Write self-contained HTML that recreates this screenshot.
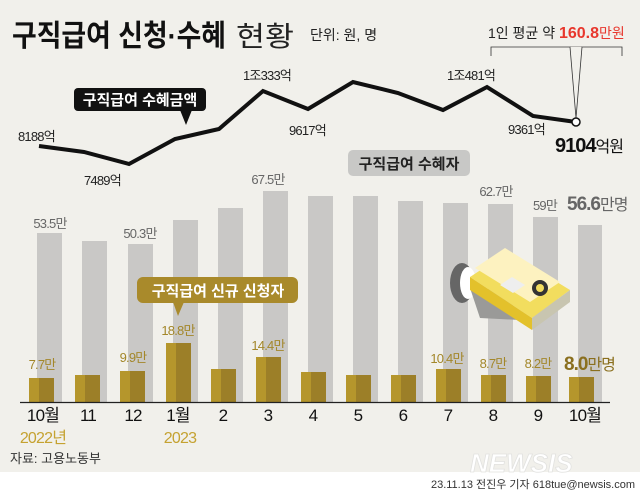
<!DOCTYPE html>
<html><head><meta charset="utf-8"><style>
body{margin:0;width:640px;height:492px;overflow:hidden;background:#fff}
svg{display:block}
text{font-family:"Liberation Sans","Noto Sans CJK KR",sans-serif}
</style></head><body>
<svg width="640" height="492" viewBox="0 0 640 492" xmlns="http://www.w3.org/2000/svg">
<rect x="0" y="0" width="640" height="472" fill="#f1f0eb"/>
<!-- title -->
<text x="12" y="46" font-size="30" font-weight="bold" fill="#111" textLength="214" lengthAdjust="spacingAndGlyphs">구직급여 신청·수혜</text>
<text x="236" y="46" font-size="28" fill="#222" textLength="58" lengthAdjust="spacingAndGlyphs">현황</text>
<text x="310" y="40" font-size="14" fill="#222">단위: 원, 명</text>
<text x="488" y="38" font-size="14" fill="#222">1인 평균 약 <tspan fill="#e8372d" font-weight="bold" font-size="16">160.8</tspan><tspan fill="#e8372d">만원</tspan></text>
<polyline points="491,56 491,47 622,47 622,56" fill="none" stroke="#333" stroke-width="0.8"/>
<polyline points="570,47 576,118 582,47" fill="#f1f0eb" stroke="#333" stroke-width="0.8"/>
<line x1="571" y1="47.5" x2="581" y2="47.5" stroke="#f1f0eb" stroke-width="1.2"/>
<!-- gray bars -->
<g fill="#c9c8c6">
<rect x="37" y="233" width="25" height="169"/>
<rect x="82" y="241" width="25" height="161"/>
<rect x="128" y="244" width="25" height="158"/>
<rect x="173" y="220" width="25" height="182"/>
<rect x="218" y="208" width="25" height="194"/>
<rect x="263" y="191" width="25" height="211"/>
<rect x="308" y="196" width="25" height="206"/>
<rect x="353" y="196" width="25" height="206"/>
<rect x="398" y="201" width="25" height="201"/>
<rect x="443" y="203" width="25" height="199"/>
<rect x="488" y="204" width="25" height="198"/>
<rect x="533" y="217" width="25" height="185"/>
<rect x="578" y="225" width="24" height="177"/>
</g>
<!-- gold bars -->
<g fill="#9c7f28">
<rect x="29" y="378" width="25" height="24"/>
<rect x="75" y="375" width="25" height="27"/>
<rect x="120" y="371" width="25" height="31"/>
<rect x="166" y="343" width="25" height="59"/>
<rect x="211" y="369" width="25" height="33"/>
<rect x="256" y="357" width="25" height="45"/>
<rect x="301" y="372" width="25" height="30"/>
<rect x="346" y="375" width="25" height="27"/>
<rect x="391" y="375" width="25" height="27"/>
<rect x="436" y="369" width="25" height="33"/>
<rect x="481" y="375" width="25" height="27"/>
<rect x="526" y="376" width="25" height="26"/>
<rect x="569" y="377" width="25" height="25"/>
</g>
<g fill="#b5962c">
<rect x="29" y="378" width="10" height="24"/><rect x="75" y="375" width="10" height="27"/><rect x="120" y="371" width="10" height="31"/><rect x="166" y="343" width="10" height="59"/><rect x="211" y="369" width="10" height="33"/><rect x="256" y="357" width="10" height="45"/><rect x="301" y="372" width="10" height="30"/><rect x="346" y="375" width="10" height="27"/><rect x="391" y="375" width="10" height="27"/><rect x="436" y="369" width="10" height="33"/><rect x="481" y="375" width="10" height="27"/><rect x="526" y="376" width="10" height="26"/><rect x="569" y="377" width="10" height="25"/>
</g>
<line x1="20" y1="402.5" x2="610" y2="402.5" stroke="#222" stroke-width="1.2"/>
<!-- gray labels -->
<g font-size="13" fill="#666" text-anchor="middle" letter-spacing="-0.8">
<text x="50" y="228">53.5만</text>
<text x="140" y="238">50.3만</text>
<text x="268" y="184">67.5만</text>
<text x="496" y="196">62.7만</text>
<text x="545" y="210">59만</text>
</g>
<text x="567" y="210" font-size="19" font-weight="bold" fill="#666" letter-spacing="-1">56.6<tspan font-weight="normal" font-size="16">만명</tspan></text>
<!-- gold labels -->
<g font-size="13" fill="#a3872a" text-anchor="middle" letter-spacing="-0.8">
<text x="42" y="369">7.7만</text>
<text x="133" y="362">9.9만</text>
<text x="178" y="335">18.8만</text>
<text x="268" y="350">14.4만</text>
<text x="447" y="363">10.4만</text>
<text x="493" y="368">8.7만</text>
<text x="538" y="368">8.2만</text>
</g>
<text x="564" y="370" font-size="19" font-weight="bold" fill="#8a6f1e" letter-spacing="-1">8.0<tspan font-weight="normal" font-size="16">만명</tspan></text>
<!-- months -->
<g font-size="17" fill="#111" text-anchor="middle" letter-spacing="-0.8">
<text x="43" y="421">10월</text><text x="88" y="421">11</text><text x="133" y="421">12</text><text x="178" y="421">1월</text><text x="223" y="421">2</text><text x="268" y="421">3</text><text x="313" y="421">4</text><text x="358" y="421">5</text><text x="403" y="421">6</text><text x="448" y="421">7</text><text x="493" y="421">8</text><text x="538" y="421">9</text><text x="585" y="421">10월</text>
</g>
<g font-size="16" fill="#c5a231" text-anchor="middle" letter-spacing="-0.8"><text x="43" y="443">2022년</text><text x="180" y="443">2023</text></g>
<text x="10" y="463" font-size="13" fill="#333">자료: 고용노동부</text>
<text x="470" y="472" font-size="26" font-weight="bold" font-style="italic" fill="#fff" stroke="#e2e2e0" stroke-width="0.8">NEWSIS</text>
<text x="635" y="488" font-size="11" fill="#333" text-anchor="end">23.11.13 전진우 기자 618tue@newsis.com</text>
<!-- gray pill -->
<rect x="348" y="150" width="122" height="26" rx="5" fill="#c8c8c6"/>
<text x="409" y="169" font-size="15" font-weight="bold" fill="#222" text-anchor="middle">구직급여 수혜자</text>
<!-- gold pill -->
<rect x="137" y="277" width="161" height="26" rx="6" fill="#a98a2b"/>
<polygon points="173,302 184,302 178,316" fill="#a98a2b"/>
<text x="218" y="296" font-size="15" font-weight="bold" fill="#fff" text-anchor="middle">구직급여 신규 신청자</text>
<!-- money illustration -->
<g>
<ellipse cx="462" cy="283" rx="12" ry="20" fill="#666"/>
<ellipse cx="468" cy="283" rx="8" ry="16" fill="#fff"/>
<path d="M470,288 L505,300 L520,320 L480,318 Z" fill="#9a9a98"/>
<polygon points="470,277 508,252 570,290 532,318" fill="#f2dd5e"/>
<polygon points="470,277 532,318 532,330 470,290" fill="#e3c12b"/>
<polygon points="532,318 570,290 570,302 532,330" fill="#c8c5b0"/>
<polygon points="475,268 505,248 560,282 530,302" fill="#fdf2c0"/>
<polygon points="500,285 512,277 525,285 513,293" fill="#eee"/>
<circle cx="540" cy="288" r="8" fill="#333"/>
<circle cx="540" cy="288" r="4" fill="#f2dd5e"/>
</g>
<!-- line -->
<polyline points="39,146 84,152 129,164 175,139 219,129 263,91 308,109 353,82 398,93 443,110 487,87 533,116 576,122" fill="none" stroke="#111" stroke-width="4" stroke-linejoin="miter"/>
<circle cx="576" cy="122" r="4" fill="#fff" stroke="#111" stroke-width="1.5"/>
<!-- black label -->
<rect x="74" y="88" width="132" height="23" rx="4" fill="#111"/>
<polygon points="180,110 192,110 186,125" fill="#111"/>
<text x="140" y="105" font-size="15" font-weight="bold" fill="#fff" text-anchor="middle">구직급여 수혜금액</text>
<!-- line labels -->
<g font-size="13" fill="#222" letter-spacing="-0.8">
<text x="18" y="141">8188억</text>
<text x="84" y="185">7489억</text>
<text x="243" y="80">1조333억</text>
<text x="289" y="135">9617억</text>
<text x="447" y="80">1조481억</text>
<text x="508" y="134">9361억</text>
</g>
<text x="555" y="152" font-size="20" font-weight="bold" fill="#111" letter-spacing="-1">9104<tspan font-weight="normal" font-size="16">억원</tspan></text>
</svg>
</body></html>
